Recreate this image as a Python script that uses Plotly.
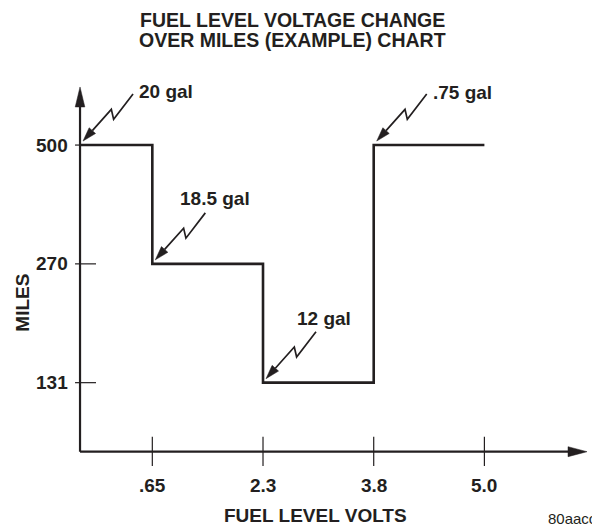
import plotly.graph_objects as go

# ---- data -------------------------------------------------------------
volts = [".65", "2.3", "3.8", "5.0"]          # fuel level volts (x tick labels)
mile_ticks = [131, 270, 500]                  # miles (y tick labels, ordinal spacing)
start_miles = 500                             # reading at the start of travel
miles_after = [270, 131, 500, 500]            # reading once each voltage is reached
gal_labels = ["20 gal", "18.5 gal", "12 gal", ".75 gal"]
gal_volt_idx = [None, 0, 1, 2]                # None = start of the curve on the axis
gal_miles = [500, 270, 131, 500]

# ---- styling / layout ------------------------------------------------
INK = "#231f20"
FONT = "Liberation Sans, Arial, Helvetica, sans-serif"
X0, Y0 = -0.653, -0.581          # where the two axes meet
X_TIP, Y_TIP = 3.927, 2.489      # axis arrow tips
XR = [-1.376, 3.972]
YR = [-1.198, 3.221]

# label offsets (px, right / down) from the step corner each callout points at
label_offsets = [(58, -54), (27, -65), (33, -64), (58, -53)]

# lightning-bolt callout, px relative to its arrow tip (screen: y grows down)
BOLT = [(50, -47), (30.6, -21.7), (28.3, -31.7)]
TIP_OFF = (3, -4)
HEAD_LEN, HEAD_HW = 14, 4.3


def lvl(m):
    return mile_ticks.index(m)


def pix_path(pts, close=False):
    # pixel-sized shape paths use y up, so flip screen offsets
    s = "M " + " L ".join(f"{x:.2f},{-y:.2f}" for x, y in pts)
    return s + (" Z" if close else "")


x_idx = list(range(len(volts)))
step_x = [X0] + x_idx
step_y = [lvl(start_miles)] + [lvl(m) for m in miles_after]

fig = go.Figure()
fig.add_trace(go.Scatter(
    x=step_x, y=step_y, mode="lines",
    line=dict(color=INK, width=2.6, shape="hv"),
    hoverinfo="skip", showlegend=False,
))

shapes = []
# axes with arrowheads
shapes.append(dict(type="line", xref="x", yref="y", x0=X0, x1=X0, y0=Y0, y1=Y_TIP - 0.08,
                   line=dict(color=INK, width=2.2)))
shapes.append(dict(type="line", xref="x", yref="y", x0=X0, x1=X_TIP - 0.08, y0=Y0, y1=Y0,
                   line=dict(color=INK, width=2.2)))
shapes.append(dict(type="path", xref="x", yref="y", xsizemode="pixel", ysizemode="pixel",
                   xanchor=X0, yanchor=Y_TIP,
                   path=pix_path([(0, 0), (-4.8, 20), (4.8, 20)], close=True),
                   fillcolor=INK, line=dict(color=INK, width=0.5)))
shapes.append(dict(type="path", xref="x", yref="y", xsizemode="pixel", ysizemode="pixel",
                   xanchor=X_TIP, yanchor=Y0,
                   path=pix_path([(0, 0), (-19, -5), (-19, 5)], close=True),
                   fillcolor=INK, line=dict(color=INK, width=0.5)))

# tick marks crossing the axes
for i in x_idx:
    shapes.append(dict(type="line", xref="x", yref="y", ysizemode="pixel", yanchor=Y0,
                       x0=i, x1=i, y0=-14.3, y1=15, line=dict(color=INK, width=1.2)))
for m in mile_ticks:
    shapes.append(dict(type="line", xref="x", yref="y", xsizemode="pixel", xanchor=X0,
                       x0=-5, x1=16, y0=lvl(m), y1=lvl(m), line=dict(color=INK, width=1.2)))

# lightning-bolt callouts
ux, uy = BOLT[2][0], BOLT[2][1]
n = (ux ** 2 + uy ** 2) ** 0.5
ux, uy = ux / n, uy / n
px, py = -uy, ux
bx, by = ux * HEAD_LEN, uy * HEAD_LEN
tx, ty = TIP_OFF
for vi, m in zip(gal_volt_idx, gal_miles):
    xa = X0 if vi is None else vi
    ya = lvl(m)
    line_pts = [(x + tx, y + ty) for x, y in BOLT + [(bx, by)]]
    head_pts = [(tx, ty), (bx + HEAD_HW * px + tx, by + HEAD_HW * py + ty),
                (bx - HEAD_HW * px + tx, by - HEAD_HW * py + ty)]
    shapes.append(dict(type="path", xref="x", yref="y", xsizemode="pixel", ysizemode="pixel",
                       xanchor=xa, yanchor=ya, path=pix_path(line_pts),
                       line=dict(color=INK, width=1.7)))
    shapes.append(dict(type="path", xref="x", yref="y", xsizemode="pixel", ysizemode="pixel",
                       xanchor=xa, yanchor=ya, path=pix_path(head_pts, close=True),
                       fillcolor=INK, line=dict(color=INK, width=0.5)))

annotations = []
bold = dict(family=FONT, size=19, color=INK, weight="bold")
title_font = dict(family=FONT, size=19.5, color=INK, weight="bold")
for i, v in zip(x_idx, volts):
    annotations.append(dict(x=i, y=Y0, xref="x", yref="y", text=v, showarrow=False,
                            xanchor="center", yanchor="middle", yshift=-33.3,
                            font=bold, borderpad=0))
for m in mile_ticks:
    annotations.append(dict(x=X0, y=lvl(m), xref="x", yref="y", text=str(m), showarrow=False,
                            xanchor="right", yanchor="middle", xshift=-10.7,
                            font=bold, borderpad=0))
for vi, m, lab, (dx, dy) in zip(gal_volt_idx, gal_miles, gal_labels, label_offsets):
    xa = X0 if vi is None else vi
    annotations.append(dict(x=xa, y=lvl(m), xref="x", yref="y", text=lab, showarrow=False,
                            xanchor="left", yanchor="middle", xshift=dx, yshift=-dy,
                            font=bold, borderpad=0))

W, H = 592, 525
annotations += [
    dict(x=292 / W, y=1 - 19.5 / H, xref="paper", yref="paper", text="FUEL LEVEL VOLTAGE CHANGE",
         showarrow=False, xanchor="center", yanchor="middle", font=title_font, borderpad=0),
    dict(x=292 / W, y=1 - 40 / H, xref="paper", yref="paper", text="OVER MILES (EXAMPLE) CHART",
         showarrow=False, xanchor="center", yanchor="middle", font=title_font, borderpad=0),
    dict(x=315 / W, y=1 - 515 / H, xref="paper", yref="paper", text="FUEL LEVEL VOLTS",
         showarrow=False, xanchor="center", yanchor="middle", font=bold, borderpad=0),
    dict(x=21.7 / W, y=1 - 303 / H, xref="paper", yref="paper", text="MILES", textangle=-90,
         showarrow=False, xanchor="center", yanchor="middle", font=bold, borderpad=0),
    dict(x=546.7 / W, y=1 - 518 / H, xref="paper", yref="paper", text="80aacc",
         showarrow=False, xanchor="left", yanchor="middle",
         font=dict(family=FONT, size=15, color=INK), borderpad=0),
]

fig.update_layout(
    width=W, height=H, autosize=False,
    margin=dict(l=0, r=0, t=0, b=0, pad=0),
    paper_bgcolor="white", plot_bgcolor="white",
    xaxis=dict(visible=False, range=XR, fixedrange=True),
    yaxis=dict(visible=False, range=YR, fixedrange=True),
    shapes=shapes, annotations=annotations, showlegend=False,
)

fig.write_html("out.html", config={"displayModeBar": False})
